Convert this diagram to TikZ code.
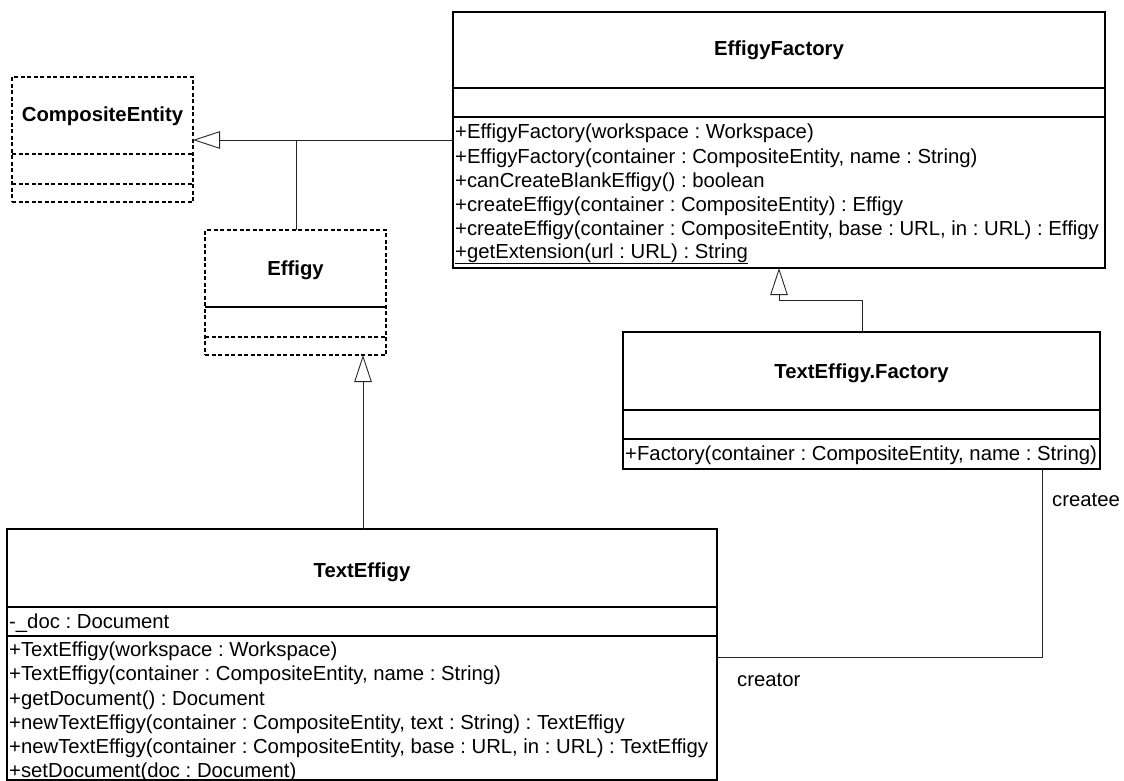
\documentclass[tikz,border=0pt]{standalone}
\usepackage{fontspec}
\setmainfont{Liberation Sans}
\usetikzlibrary{arrows.meta}
\frenchspacing
\begin{document}
\begin{tikzpicture}[x=1pt,y=-1pt,
  box/.style={draw=black,line width=1.3pt,rectangle,inner sep=0pt,outer sep=0pt,anchor=north west},
  dbox/.style={box,dash pattern=on 4pt off 2.5pt},
  divider/.style={draw=black,line width=1.3pt},
  ddivider/.style={divider,dash pattern=on 4pt off 2.5pt},
  title/.style={font=\fontsize{20.3}{24}\selectfont\bfseries,anchor=base,inner sep=0pt},
  member/.style={font=\fontsize{20.3}{24}\selectfont,anchor=base west,inner sep=0pt},
  conn/.style={draw=black!85,line width=0.9pt},
  gen/.style={conn,-{Triangle[open,length=27pt,width=17.5pt]}},
  lbl/.style={font=\fontsize{20.3}{24}\selectfont,anchor=base west,inner sep=0pt}
]
\useasboundingbox (0,0) rectangle (1124,781);

% CompositeEntity
\node[dbox,minimum width=181pt,minimum height=125pt] (CE) at (12,77) {};
\draw[ddivider] (12,154) -- (193,154);
\draw[ddivider] (12,184) -- (193,184);
\node[title] (CEt) at (102.5,122) {CompositeEntity};

% Effigy
\node[dbox,minimum width=181pt,minimum height=125pt] (Eff) at (205,230) {};
\draw[divider] (205,307) -- (386,307);
\draw[ddivider] (205,337) -- (386,337);
\node[title] (Efft) at (295.5,275) {Effigy};

% EffigyFactory
\node[box,minimum width=652pt,minimum height=256pt] (EF) at (453,12) {};
\draw[divider] (453,88) -- (1105,88);
\draw[divider] (453,117) -- (1105,117);
\node[title] (EFt) at (779,56) {EffigyFactory};
\node[member] (EF1) at (455,139) {+EffigyFactory(workspace : Workspace)};
\node[member] (EF2) at (455,163) {+EffigyFactory(container : CompositeEntity, name : String)};
\node[member] (EF3) at (455,187) {+canCreateBlankEffigy() : boolean};
\node[member] (EF4) at (455,211) {+createEffigy(container : CompositeEntity) : Effigy};
\node[member] (EF5) at (455,235) {+createEffigy(container : CompositeEntity, base : URL, in : URL) : Effigy};
\node[member] (EF6) at (455,258) {\underline{+getExtension(url : URL) : String}};

% TextEffigy.Factory
\node[box,minimum width=477pt,minimum height=137pt] (TF) at (623,332) {};
\draw[divider] (623,410) -- (1100,410);
\draw[divider] (623,439) -- (1100,439);
\node[title] (TFt) at (861.5,378) {TextEffigy.Factory};
\node[member] (TF1) at (625,460) {+Factory(container : CompositeEntity, name : String)};

% TextEffigy
\node[box,minimum width=710pt,minimum height=251pt] (TE) at (7,529) {};
\draw[divider] (7,607) -- (717,607);
\draw[divider] (7,636) -- (717,636);
\node[title] (TEt) at (362,577) {TextEffigy};
\node[member] (TEa) at (9,628) {-\_doc : Document};
\node[member] (TE1) at (9,656) {+TextEffigy(workspace : Workspace)};
\node[member] (TE2) at (9,680) {+TextEffigy(container : CompositeEntity, name : String)};
\node[member] (TE3) at (9,705) {+getDocument() : Document};
\node[member] (TE4) at (9,729) {+newTextEffigy(container : CompositeEntity, text : String) : TextEffigy};
\node[member] (TE5) at (9,753) {+newTextEffigy(container : CompositeEntity, base : URL, in : URL) : TextEffigy};
\node[member] (TE6) at (9,777) {+setDocument(doc : Document)};

% connectors
\coordinate (j1) at (296,140);
\coordinate (j2) at (363,0);
\coordinate (j3) at (862,300);
\coordinate (j4) at (779,300);
\coordinate (j5) at (1042,657);

\draw[gen] (EF.west |- j1) -- (CE.east |- j1);
\draw[conn] (Eff.north -| j1) -- (j1);
\draw[gen] (TE.north -| j2) -- (Eff.south -| j2);
\draw[gen] (TF.north -| j3) -- (j3) -- (j4) -- (EF.south -| j4);
\draw[conn] (TF.south -| j5) -- (j5) -- (TE.east |- j5);

\node[lbl] (createe) at (1052,506) {createe};
\node[lbl] (creator) at (737,686) {creator};
\end{tikzpicture}
\end{document}
